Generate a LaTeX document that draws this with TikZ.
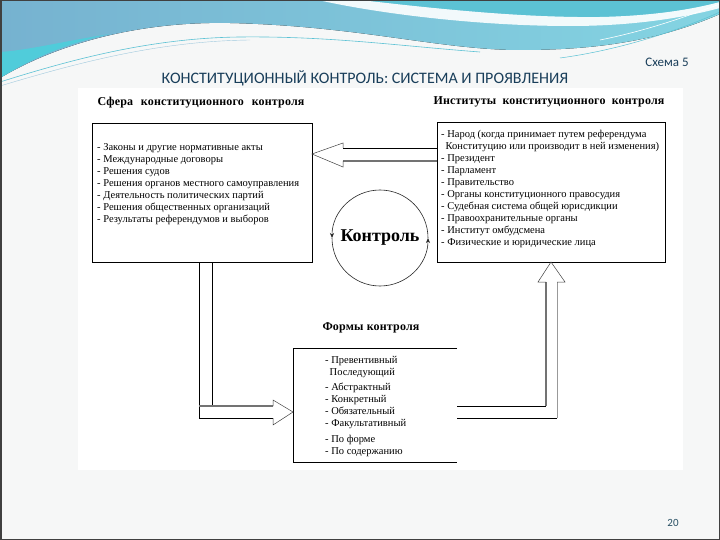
\documentclass[tikz,border=0pt]{standalone}
\usepackage{fontspec}
\setmainfont{Liberation Serif}
\newfontfamily\titlefont{Carlito}
\usetikzlibrary{arrows.meta}
\definecolor{slidebg}{RGB}{246,247,247}
\definecolor{hdrL}{RGB}{118,178,208}
\definecolor{hdrR}{RGB}{132,212,226}
\definecolor{hdrC}{RGB}{80,204,218}
\definecolor{hdrT}{RGB}{92,194,212}
\definecolor{titleblue}{RGB}{25,62,90}
\definecolor{numteal}{RGB}{40,80,100}
\tikzset{
  box/.style={draw=black, line width=0.8pt, inner sep=0pt, outer sep=0pt},
  openbox/.style={inner sep=0pt, outer sep=0pt},
  boxline/.style={draw=black, line width=0.8pt},
  listtext/.style={inner sep=0pt, anchor=north west, align=left, font=\fontsize{10.5}{12}\selectfont},
  heading/.style={inner sep=0pt, font=\fontsize{12}{14}\selectfont\bfseries\addfontfeature{LetterSpace=1.5}},
  shaft/.style={draw=black, line width=0.8pt},
  shaftgray/.style={draw=black!55, line width=1.3pt},
  shaftlight/.style={draw=black!40, line width=0.9pt},
  headline/.style={draw=black!75, line width=0.5pt},
  ring/.style={draw=black!85, line width=0.6pt, -{Stealth[length=5pt,width=4pt]}},
}
\begin{document}
\begin{tikzpicture}[x=1pt,y=-1pt]
\useasboundingbox (0,0) rectangle (720,540);
% slide background
\fill[slidebg] (0,0) rectangle (720,540);
\fill[white] (78,88) rectangle (683,470);
% header decoration
\fill[left color=hdrL, right color=hdrR] (0,0) -- (720,0) -- (720,14)
  .. controls (660,40) and (600,50) .. (520,50)
  .. controls (440,50) and (360,26) .. (230,23)
  .. controls (130,21) and (50,48) .. (0,78) -- cycle;
\fill[hdrC] (0,52) .. controls (30,50) and (70,40) .. (110,34)
  .. controls (60,45) and (30,60) .. (0,78) -- cycle;
\fill[hdrT] (360,0) .. controls (430,8) and (520,18) .. (600,17)
  .. controls (650,16) and (690,10) .. (720,2) -- (720,0) -- cycle;
\fill[white, opacity=0.9] (318,0) .. controls (380,14) and (480,26) .. (570,26)
  .. controls (640,26) and (690,16) .. (720,8) -- (720,2)
  .. controls (690,10) and (650,16) .. (600,17)
  .. controls (520,18) and (430,8) .. (360,0) -- cycle;
\draw[hdrT, line width=0.6pt] (0,82) .. controls (70,60) and (150,38) .. (240,37)
  .. controls (330,36) and (400,46) .. (480,52);
\draw[hdrL!70, line width=0.4pt] (0,86) .. controls (80,62) and (160,41) .. (250,40);
\draw[hdrT, line width=0.5pt] (560,58) .. controls (620,50) and (680,30) .. (720,12);
\draw[white, line width=0.6pt] (600,40) .. controls (650,30) and (690,15) .. (720,4);
% frame
\draw[black!75, line width=1.5pt] (0.75,0.75) rectangle (719.25,539.25);

% title texts
\node[inner sep=0pt, text=titleblue, font=\titlefont\fontsize{16}{18}\selectfont] (title) at (365,78)
  {КОНСТИТУЦИОННЫЙ КОНТРОЛЬ: СИСТЕМА И ПРОЯВЛЕНИЯ};
\node[inner sep=0pt, text=titleblue, font=\titlefont\fontsize{13}{15}\selectfont] (scheme) at (667,62) {Схема 5};
\node[inner sep=0pt, text=numteal, font=\titlefont\fontsize{11}{13}\selectfont] (pagenum) at (673,523) {20};

% headings
\node[heading] (hsfera) at (201,103) {\makebox[207pt][s]{Сфера конституционного контроля}};
\node[heading] (hinst) at (549,102) {\makebox[231pt][s]{Институты конституционного контроля}};
\node[heading] (hforms) at (371,328) {\makebox[97pt][s]{Формы контроля}};

% boxes
\node[box, anchor=north west, minimum width=220pt, minimum height=139pt] (sfera) at (92,123) {};
\node[box, anchor=north west, minimum width=228pt, minimum height=140pt] (inst) at (437,122) {};
\node[openbox, anchor=north west, minimum width=164pt, minimum height=114pt] (forms) at (293,348) {};
\draw[boxline] (forms.north east) -- (forms.north west) -- (forms.south west) -- (forms.south east);

% list texts
\node[listtext] (sferatext) at (97,143) {- Законы и другие нормативные акты\\
- Международные договоры\\
- Решения судов\\
- Решения органов местного самоуправления\\
- Деятельность политических партий\\
- Решения общественных организаций\\
- Результаты референдумов и выборов};
\node[listtext] (insttext) at (441,130) {- Народ (когда принимает путем референдума\\
\hspace*{4.5pt}Конституцию или производит в ней изменения)\\
- Президент\\
- Парламент\\
- Правительство\\
- Органы конституционного правосудия\\
- Судебная система общей юрисдикции\\
- Правоохранительные органы\\
- Институт омбудсмена\\
- Физические и юридические лица};
\node[listtext] (formstext) at (325,356) {- Превентивный\\
\hspace*{4.5pt}Последующий\\[3pt]
- Абстрактный\\
- Конкретный\\
- Обязательный\\
- Факультативный\\[4pt]
- По форме\\
- По содержанию};

% control circle
\node[circle, inner sep=0pt, outer sep=0pt, minimum size=96pt,
  font=\fontsize{18}{20}\selectfont\bfseries] (ctrl) at (380,238) {Контроль};
\draw[ring] (ctrl.east) arc[start angle=0, end angle=-180, radius=48];
\draw[ring] (ctrl.west) arc[start angle=180, end angle=0, radius=48];

% hollow arrow: institutes -> sphere
\draw[shaft] (inst.west |- 0,148) -- (343,148);
\draw[shaftgray] (inst.west |- 0,161) -- (343,161);
\draw[headline] (343,148) -- (343,143) -- (sfera.east |- 0,154) -- (343,167) -- (343,161);

% hollow arrow: sphere -> forms
\draw[shaft] (199,0 |- sfera.south) -- (199,418) -- (273,418);
\draw[shaft] (212,0 |- sfera.south) -- (212,406);
\draw[shaftgray] (199,406) -- (273,406);
\draw[headline] (273,406) -- (273,400) -- (forms.west |- 0,412) -- (273,425) -- (273,418);

% hollow arrow: forms -> institutes
\draw[shaft] (forms.east |- 0,406) -- (546,406);
\draw[shaft] (forms.east |- 0,418) -- (557,418);
\draw[shaftgray] (546,406) -- (546,282);
\draw[shaftlight] (557,418) -- (557,282);
\draw[headline] (546,282) -- (538,282) -- (inst.south) -- (565,282) -- (557,282);
\end{tikzpicture}
\end{document}
